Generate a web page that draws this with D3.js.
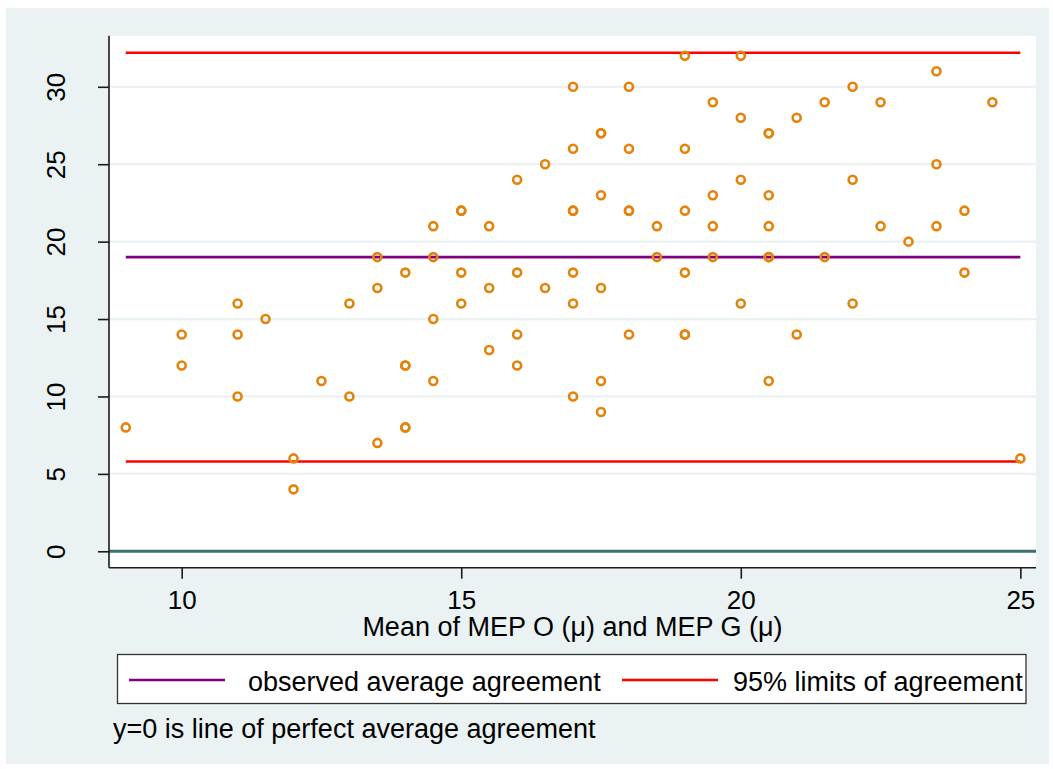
<!DOCTYPE html>
<html>
<head>
<meta charset="utf-8">
<script src="https://cdn.jsdelivr.net/npm/d3@7"></script>
<style>
  html, body { margin: 0; padding: 0; background: #ffffff; }
  svg { display: block; }
  text { font-family: "Liberation Sans", Arial, sans-serif; fill: #000; }
</style>
</head>
<body>
<svg id="chart" width="1053" height="769"></svg>
<script>
// Bland–Altman agreement plot: difference vs. mean of the two MEP measurements
const meanValues = [
  9,
  10, 10,
  11, 11, 11,
  11.5,
  12, 12,
  12.5,
  13, 13,
  13.5, 13.5, 13.5,
  14, 14, 14, 14, 14,
  14.5, 14.5, 14.5, 14.5,
  15, 15, 15, 15,
  15.5, 15.5, 15.5,
  16, 16, 16, 16,
  16.5, 16.5,
  17, 17, 17, 17, 17, 17, 17,
  17.5, 17.5, 17.5, 17.5, 17.5, 17.5,
  18, 18, 18, 18, 18,
  18.5, 18.5,
  19, 19, 19, 19, 19, 19,
  19.5, 19.5, 19.5, 19.5,
  20, 20, 20, 20,
  20.5, 20.5, 20.5, 20.5, 20.5, 20.5, 20.5,
  21, 21,
  21.5, 21.5,
  22, 22, 22,
  22.5, 22.5,
  23,
  23.5, 23.5, 23.5,
  24, 24,
  24.5,
  25
];
const diffValues = [
  8,
  14, 12,
  16, 14, 10,
  15,
  6, 4,
  11,
  16, 10,
  19, 17, 7,
  18, 12, 12, 8, 8,
  21, 19, 15, 11,
  22, 22, 18, 16,
  21, 17, 13,
  24, 18, 14, 12,
  25, 17,
  30, 26, 22, 22, 18, 16, 10,
  27, 27, 23, 17, 11, 9,
  30, 26, 22, 22, 14,
  21, 19,
  32, 26, 22, 18, 14, 14,
  29, 23, 21, 19,
  32, 28, 24, 16,
  27, 27, 23, 21, 19, 19, 11,
  28, 14,
  29, 19,
  30, 24, 16,
  29, 21,
  20,
  31, 25, 21,
  22, 18,
  29,
  6
];

// Average difference and 95% limits of agreement
const meanDiff = 19.0;
const limits = [5.8, 32.2];

const xTicks = [10, 15, 20, 25];
const yTicks = [0, 5, 10, 15, 20, 25, 30];

const xTitle = "Mean of MEP O (\u03bc) and MEP G (\u03bc)";
const legendLabels = ["observed average agreement", "95% limits of agreement"];
const noteText = "y=0 is line of perfect average agreement";

const colors = {
  outer: "#EAF2F3",
  grid: "#EAF2F3",
  zero: "#3A716C",
  mean: "#800080",
  limit: "#FF0000",
  marker: "#E5820A",
  axis: "#1a1a1a"
};

const svg = d3.select("#chart");
const FONT = 27;
const TICK_FONT = 26;

// Plot region
const plot = { left: 109, right: 1036, top: 35.7, bottom: 567.7 };

const x = d3.scaleLinear().domain([8.7, 25.28]).range([plot.left, plot.right]);
const y = d3.scaleLinear().domain([-1.06, 33.3]).range([plot.bottom, plot.top]);

// Outer graph background
svg.append("rect")
  .attr("x", 6).attr("y", 8).attr("width", 1043).attr("height", 756)
  .attr("fill", colors.outer);

// Plot background
svg.append("rect")
  .attr("x", plot.left).attr("y", plot.top)
  .attr("width", plot.right - plot.left).attr("height", plot.bottom - plot.top)
  .attr("fill", "#ffffff");

// Horizontal grid lines
svg.append("g").selectAll("line")
  .data(yTicks.filter(d => d !== 0))
  .join("line")
  .attr("x1", plot.left).attr("x2", plot.right)
  .attr("y1", d => y(d)).attr("y2", d => y(d))
  .attr("stroke", colors.grid).attr("stroke-width", 2.2);

// Line of perfect agreement
svg.append("line")
  .attr("x1", plot.left).attr("x2", plot.right)
  .attr("y1", y(0)).attr("y2", y(0))
  .attr("stroke", colors.zero).attr("stroke-width", 3);

// Mean and limit lines span the observed range of means
const xExtent = d3.extent(meanValues);
const refLines = [
  { v: limits[1], c: colors.limit },
  { v: meanDiff, c: colors.mean },
  { v: limits[0], c: colors.limit }
];
svg.append("g").selectAll("line")
  .data(refLines)
  .join("line")
  .attr("x1", x(xExtent[0])).attr("x2", x(xExtent[1]))
  .attr("y1", d => y(d.v)).attr("y2", d => y(d.v))
  .attr("stroke", d => d.c).attr("stroke-width", 2.7);

// Y axis
const yAxis = d3.axisLeft(y).tickValues(yTicks).tickSize(11).tickPadding(0).tickFormat(d3.format("d"));
const gy = svg.append("g").attr("transform", `translate(${plot.left},0)`).call(yAxis);
gy.attr("font-family", null).attr("font-size", null);
gy.select(".domain").attr("stroke", colors.axis).attr("stroke-width", 1.6)
  .attr("d", `M0,${plot.top}V${plot.bottom}`);
gy.selectAll(".tick line").attr("stroke", colors.axis).attr("stroke-width", 1.6);
gy.selectAll(".tick text")
  .attr("font-size", TICK_FONT)
  .attr("text-anchor", "middle")
  .attr("x", null).attr("dy", null)
  .attr("transform", "translate(-44.5,0) rotate(-90)")
  .attr("fill", "#000");

// X axis
const xAxis = d3.axisBottom(x).tickValues(xTicks).tickSize(11).tickPadding(0).tickFormat(d3.format("d"));
const gx = svg.append("g").attr("transform", `translate(0,${plot.bottom})`).call(xAxis);
gx.attr("font-family", null).attr("font-size", null);
gx.select(".domain").attr("stroke", colors.axis).attr("stroke-width", 1.6)
  .attr("d", `M${plot.left},0H${plot.right}`);
gx.selectAll(".tick line").attr("stroke", colors.axis).attr("stroke-width", 1.6);
gx.selectAll(".tick text")
  .attr("font-size", TICK_FONT)
  .attr("y", 41.5).attr("dy", null)
  .attr("fill", "#000");

// X axis title
svg.append("text")
  .attr("x", (plot.left + plot.right) / 2).attr("y", 635.5)
  .attr("text-anchor", "middle").attr("font-size", FONT)
  .text(xTitle);

// Observations
svg.append("g").selectAll("circle")
  .data(meanValues.map((m, i) => ({ m, d: diffValues[i] })))
  .join("circle")
  .attr("cx", d => x(d.m)).attr("cy", d => y(d.d))
  .attr("r", 4)
  .attr("fill", "none")
  .attr("stroke", colors.marker).attr("stroke-width", 2.6);

// Legend
const legend = svg.append("g");
legend.append("rect")
  .attr("x", 117.5).attr("y", 654.5).attr("width", 908.5).attr("height", 49)
  .attr("fill", "#ffffff").attr("stroke", "#333").attr("stroke-width", 1.3);
const legendItems = [
  { label: legendLabels[0], c: colors.mean, x0: 129, x1: 225, tx: 248 },
  { label: legendLabels[1], c: colors.limit, x0: 622, x1: 718, tx: 733 }
];
legendItems.forEach(it => {
  legend.append("line")
    .attr("x1", it.x0).attr("x2", it.x1).attr("y1", 680).attr("y2", 680)
    .attr("stroke", it.c).attr("stroke-width", 2.7);
  legend.append("text")
    .attr("x", it.tx).attr("y", 691).attr("font-size", FONT)
    .text(it.label);
});

// Note
svg.append("text")
  .attr("x", 113).attr("y", 737.5).attr("font-size", FONT)
  .text(noteText);
</script>
</body>
</html>
